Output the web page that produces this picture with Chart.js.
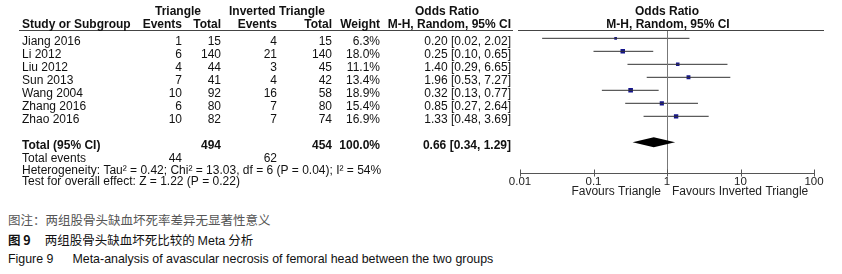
<!DOCTYPE html>
<html>
<head>
<meta charset="utf-8">
<script src="https://cdn.jsdelivr.net/npm/chart.js@4.4.1/dist/chart.umd.min.js"></script>
<style>
  html, body { margin: 0; padding: 0; background: #fff; }
  #wrap { position: relative; width: 842px; height: 274px; overflow: hidden; background: #fff; }
  #c { position: absolute; left: 0; top: 0; }
  .cap { position: absolute; left: 8px; white-space: nowrap; font-family: "Liberation Sans", Arial, "Noto Sans CJK SC", sans-serif; line-height: 16px; }
</style>
</head>
<body>
<div id="wrap">
  <canvas id="c" width="842" height="200"></canvas>
  <div class="cap" style="top:212px;font-size:12.5px;color:#555;font-family:'Noto Sans CJK SC','Liberation Sans',sans-serif;">图注：两组股骨头缺血坏死率差异无显著性意义</div>
  <div class="cap" style="top:232px;font-size:12.5px;color:#111;"><b style="font-family:'Noto Sans CJK SC',sans-serif;">图 9</b><span style="display:inline-block;width:14px"></span><span style="font-family:'Noto Sans CJK SC',sans-serif;">两组股骨头缺血坏死比较的 </span>Meta<span style="font-family:'Noto Sans CJK SC',sans-serif;"> 分析</span></div>
  <div class="cap" style="top:251px;font-size:12.4px;color:#111;">Figure 9<span style="display:inline-block;width:19px"></span>Meta-analysis of avascular necrosis of femoral head between the two groups</div>
</div>
<script>
// ---- data ----
const studies   = ["Jiang 2016", "Li 2012", "Liu 2012", "Sun 2013", "Wang 2004", "Zhang 2016", "Zhao 2016"];
const triEvents = [1, 6, 4, 7, 10, 6, 10];
const triTotal  = [15, 140, 44, 41, 92, 80, 82];
const invEvents = [4, 21, 3, 4, 16, 7, 7];
const invTotal  = [15, 140, 45, 42, 58, 80, 74];
const weights   = [6.3, 18.0, 11.1, 13.4, 18.9, 15.4, 16.9];
const orVal     = [0.20, 0.25, 1.40, 1.96, 0.32, 0.85, 1.33];
const ciLow     = [0.02, 0.10, 0.29, 0.53, 0.13, 0.27, 0.48];
const ciHigh    = [2.02, 0.65, 6.65, 7.27, 0.77, 2.64, 3.69];
const totalOR   = [0.66, 0.34, 1.29];   // estimate, low, high
const totalN    = [494, 454];
const totalEv   = [44, 62];
const totalRow  = 8;
const xTicks    = [0.01, 0.1, 1, 10, 100];
const xTickLabels = ["0.01", "0.1", "1", "10", "100"];
const footerLines = [
  "Heterogeneity: Tau\u00B2 = 0.42; Chi\u00B2 = 13.03, df = 6 (P = 0.04); I\u00B2 = 54%",
  "Test for overall effect: Z = 1.22 (P = 0.22)"
];
const favLeft = "Favours Triangle", favRight = "Favours Inverted Triangle";

const FONT = '"Liberation Sans", Arial, sans-serif';
const fmt2 = v => v.toFixed(2);
const orText = (o, l, h) => fmt2(o) + " [" + fmt2(l) + ", " + fmt2(h) + "]";

// ---- datasets ----
const datasets = [];
studies.forEach((s, i) => {
  datasets.push({
    type: 'scatter', label: s + ' CI', showLine: true,
    data: [{x: ciLow[i], y: i}, {x: ciHigh[i], y: i}],
    borderColor: '#333', borderWidth: 1, pointRadius: 0, fill: false
  });
});
datasets.push({
  type: 'scatter', label: 'OR',
  data: orVal.map((v, i) => ({x: v, y: i})),
  pointStyle: 'rect',
  pointRadius: weights.map(w => 0.75 * Math.sqrt(w)),
  backgroundColor: '#14148c', borderColor: '#14148c', borderWidth: 0
});

const tablePlugin = {
  id: 'forestTable',
  afterDraw(chart) {
    const ctx = chart.ctx, xs = chart.scales.x, ys = chart.scales.y, ca = chart.chartArea;
    const x1 = xs.getPixelForValue(1);
    ctx.save();
    // header lines
    ctx.strokeStyle = '#444'; ctx.lineWidth = 1;
    ctx.beginPath(); ctx.moveTo(19, 30.5); ctx.lineTo(513, 30.5); ctx.stroke();
    ctx.beginPath(); ctx.moveTo(518, 30.5); ctx.lineTo(824, 30.5); ctx.stroke();
    // null line
    ctx.strokeStyle = '#777';
    ctx.beginPath(); ctx.moveTo(Math.round(x1) + 0.5, 31); ctx.lineTo(Math.round(x1) + 0.5, ca.bottom); ctx.stroke();
    // tick marks crossing axis
    ctx.strokeStyle = '#555';
    xTicks.forEach(v => {
      const px = Math.round(xs.getPixelForValue(v)) + 0.5;
      ctx.beginPath(); ctx.moveTo(px, ca.bottom - 4); ctx.lineTo(px, ca.bottom + 3); ctx.stroke();
    });
    // diamond
    const dy = ys.getPixelForValue(totalRow);
    ctx.fillStyle = '#000';
    ctx.beginPath();
    ctx.moveTo(xs.getPixelForValue(totalOR[1]), dy);
    ctx.lineTo(xs.getPixelForValue(totalOR[0]), dy - 5);
    ctx.lineTo(xs.getPixelForValue(totalOR[2]), dy);
    ctx.lineTo(xs.getPixelForValue(totalOR[0]), dy + 5);
    ctx.closePath(); ctx.fill();

    // text
    ctx.textBaseline = 'middle';
    const T = (s, x, y, align, bold, color) => {
      ctx.font = (bold ? 'bold ' : '') + '12px ' + FONT;
      ctx.fillStyle = color || '#111';
      ctx.textAlign = align;
      ctx.fillText(s, x, y);
    };
    const cols = {evT: 182, totT: 221, evI: 277, totI: 332, wt: 380, or: 511};
    // headers
    T("Triangle", 178, 12, 'center', true);
    T("Inverted Triangle", 277, 12, 'center', true);
    T("Odds Ratio", 447, 12, 'center', true);
    T("Study or Subgroup", 22, 25, 'left', true);
    T("Events", cols.evT, 25, 'right', true);
    T("Total", cols.totT, 25, 'right', true);
    T("Events", cols.evI, 25, 'right', true);
    T("Total", cols.totI, 25, 'right', true);
    T("Weight", cols.wt, 25, 'right', true);
    T("M-H, Random, 95% CI", cols.or, 25, 'right', true);
    T("Odds Ratio", x1, 12, 'center', true);
    T("M-H, Random, 95% CI", x1 + 1, 25, 'center', true);
    // rows
    studies.forEach((s, i) => {
      const y = ys.getPixelForValue(i) + 3;
      T(s, 22, y, 'left');
      T(String(triEvents[i]), cols.evT, y, 'right');
      T(String(triTotal[i]), cols.totT, y, 'right');
      T(String(invEvents[i]), cols.evI, y, 'right');
      T(String(invTotal[i]), cols.totI, y, 'right');
      T(weights[i].toFixed(1) + "%", cols.wt, y, 'right');
      T(orText(orVal[i], ciLow[i], ciHigh[i]), cols.or, y, 'right');
    });
    const ty = ys.getPixelForValue(totalRow) + 3;
    T("Total (95% CI)", 22, ty, 'left', true);
    T(String(totalN[0]), cols.totT, ty, 'right', true);
    T(String(totalN[1]), cols.totI, ty, 'right', true);
    T("100.0%", cols.wt, ty, 'right', true);
    T(orText(totalOR[0], totalOR[1], totalOR[2]), cols.or, ty, 'right', true);
    const ey = ys.getPixelForValue(totalRow + 1) + 3.5;
    T("Total events", 22, ey, 'left');
    T(String(totalEv[0]), cols.evT, ey, 'right');
    T(String(totalEv[1]), cols.evI, ey, 'right');
    footerLines.forEach((s, k) => T(s, 22, ey + 11.5 * (k + 1), 'left'));
    // favours
    T(favLeft, x1 - 6, 192, 'right', false, '#222');
    T(favRight, x1 + 5, 192, 'left', false, '#222');
    ctx.restore();
  }
};

new Chart(document.getElementById('c'), {
  type: 'scatter',
  data: { datasets },
  options: {
    responsive: false, animation: false, devicePixelRatio: 1,
    layout: { padding: { top: 30, left: 520, right: 28, bottom: 0 } },
    plugins: { legend: { display: false }, tooltip: { enabled: false }, title: { display: false } },
    scales: {
      x: {
        type: 'logarithmic', min: 0.01, max: 100, position: 'bottom',
        afterBuildTicks: s => { s.ticks = xTicks.map(v => ({ value: v })); },
        afterFit: s => { s.height = 26.5; },
        ticks: {
          autoSkip: false, maxRotation: 0, padding: 1, color: '#222',
          font: { family: FONT, size: 11.5 },
          callback: (v) => { const k = xTicks.indexOf(v); return k >= 0 ? xTickLabels[k] : ''; }
        },
        grid: { display: true, drawOnChartArea: false, drawTicks: false },
        border: { display: true, color: '#555', width: 1 }
      },
      y: {
        type: 'linear', min: -0.64, max: 10.40, reverse: true, display: false
      }
    }
  },
  plugins: [tablePlugin]
});
</script>
</body>
</html>
